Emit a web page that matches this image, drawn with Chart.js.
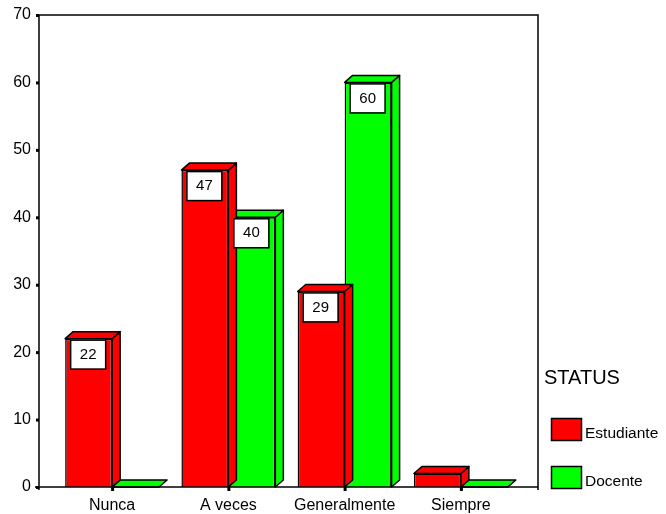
<!DOCTYPE html>
<html>
<head>
<meta charset="utf-8">
<script src="https://cdn.jsdelivr.net/npm/chart.js@4/dist/chart.umd.min.js"></script>
<style>
  html, body { margin: 0; padding: 0; background: #fff; }
  #wrap { width: 666px; height: 514px; }
</style>
</head>
<body>
<div id="wrap"><canvas id="myChart" width="666" height="514"></canvas></div>
<script>
const categorias = ["Nunca", "A veces", "Generalmente", "Siempre"];
const estudiante = [22, 47, 29, 2];
const docente = [0, 40, 60, 0];
const yTicks = [0, 10, 20, 30, 40, 50, 60, 70];
const tituloLeyenda = "STATUS";

Chart.defaults.font.family = "'Liberation Sans', Arial, sans-serif";
Chart.defaults.color = "#000";

// caras 3D (lado y techo) antes de las barras frontales
const DX = 8, DY = 7;
const caras3d = {
  id: "caras3d",
  beforeDatasetDraw(chart, args) {
    const ctx = chart.ctx;
    const meta = args.meta;
    const color = chart.data.datasets[args.index].backgroundColor;
    ctx.save();
    ctx.fillStyle = color;
    ctx.strokeStyle = "#000";
    ctx.lineWidth = 1.5;
    ctx.lineJoin = "round";
    meta.data.forEach(function (bar) {
      const l = bar.x - bar.width / 2, r = bar.x + bar.width / 2;
      const t = bar.y, b = bar.base;
      // lado
      if (b - t > 0.5) {
        ctx.beginPath();
        ctx.moveTo(r, t);
        ctx.lineTo(r + DX, t - DY);
        ctx.lineTo(r + DX, b - DY);
        ctx.lineTo(r, b);
        ctx.closePath();
        ctx.fill();
        ctx.stroke();
      }
      // techo
      ctx.beginPath();
      ctx.moveTo(l, t);
      ctx.lineTo(l + DX, t - DY);
      ctx.lineTo(r + DX, t - DY);
      ctx.lineTo(r, t);
      ctx.closePath();
      ctx.fill();
      ctx.stroke();
    });
    ctx.restore();
  },
  afterDatasetsDraw(chart) {
    const ctx = chart.ctx;
    const area = chart.chartArea;
    ctx.save();
    // etiquetas de valor
    ctx.font = "15px 'Liberation Sans', Arial, sans-serif";
    ctx.textAlign = "center";
    ctx.textBaseline = "middle";
    chart.data.datasets.forEach(function (ds, i) {
      chart.getDatasetMeta(i).data.forEach(function (bar, j) {
        const v = ds.data[j];
        if (v < 6) return;
        const bx = bar.x - bar.width / 2 + 5, by = bar.y + 1;
        ctx.fillStyle = "#fff";
        ctx.fillRect(bx, by, 35, 29);
        ctx.strokeStyle = "#000";
        ctx.lineWidth = 1.5;
        ctx.strokeRect(bx + 0.5, by + 0.5, 35, 29);
        ctx.fillStyle = "#000";
        ctx.fillText(String(v), bx + 18, by + 15);
      });
    });
    // marco
    const fl = area.left - 15, fr = area.right + 19;
    ctx.strokeStyle = "#000";
    ctx.lineWidth = 1.5;
    ctx.beginPath();
    ctx.moveTo(fl, area.bottom + 3);
    ctx.lineTo(fl, area.top);
    ctx.lineTo(fr, area.top);
    ctx.lineTo(fr, area.bottom + 3);
    ctx.moveTo(fl - 4, area.bottom);
    ctx.lineTo(fr, area.bottom);
    ctx.stroke();
    ctx.fillStyle = "#000";
    const ys = chart.scales.y;
    yTicks.forEach(function (v) {
      ctx.fillRect(fl - 3, ys.getPixelForValue(v) - 1, 3, 3);
    });
    const xs = chart.scales.x;
    categorias.forEach(function (c, k) {
      ctx.fillRect(xs.getPixelForValue(k) - 1, area.bottom, 3, 4);
    });
    // leyenda
    ctx.textAlign = "left";
    ctx.textBaseline = "middle";
    ctx.font = "20px 'Liberation Sans', Arial, sans-serif";
    ctx.fillText(tituloLeyenda, 544, 378);
    ctx.font = "15.5px 'Liberation Sans', Arial, sans-serif";
    chart.data.datasets.forEach(function (ds, i) {
      const y0 = 418 + i * 48;
      ctx.fillStyle = ds.backgroundColor;
      ctx.fillRect(551, y0, 30, 22);
      ctx.strokeRect(551.5, y0 + 0.5, 30, 22);
      ctx.fillStyle = "#000";
      ctx.fillText(ds.label, 585, y0 + 16);
    });
    ctx.restore();
  }
};

const ctx = document.getElementById("myChart");

new Chart(ctx, {
  type: "bar",
  data: {
    labels: categorias,
    datasets: [
      {
        label: "Estudiante",
        data: estudiante,
        backgroundColor: "#ff0000",
        borderColor: "#000",
        borderWidth: 1.5,
      },
      {
        label: "Docente",
        data: docente,
        backgroundColor: "#00ff00",
        borderColor: "#000",
        borderWidth: 1.5,
      },
    ],
  },
  options: {
    responsive: false,
    animation: false,
    layout: { padding: { top: 15, right: 147, left: 0, bottom: 0 } },
    plugins: {
      legend: { display: false },
      tooltip: { enabled: false },
    },
    datasets: {
      bar: { categoryPercentage: 0.808, barPercentage: 1 },
    },
    scales: {
      x: {
        grid: { display: false, drawTicks: false },
        border: { display: false },
        ticks: { padding: 9, font: { size: 16 }, color: "#000" },
        afterFit: function (s) {
          s.height = 27;
          s.paddingLeft = 0; s.paddingRight = 0; s.paddingTop = 0; s.paddingBottom = 0;
        },
      },
      y: {
        min: 0,
        max: 70,
        grid: { display: false, drawTicks: false },
        border: { display: false },
        ticks: { stepSize: 10, padding: 23, font: { size: 16 }, color: "#000" },
        afterFit: function (s) {
          s.width = 54;
          s.paddingTop = 0; s.paddingBottom = 0; s.paddingLeft = 0; s.paddingRight = 0;
        },
      },
    },
  },
  plugins: [caras3d],
});
</script>
</body>
</html>
